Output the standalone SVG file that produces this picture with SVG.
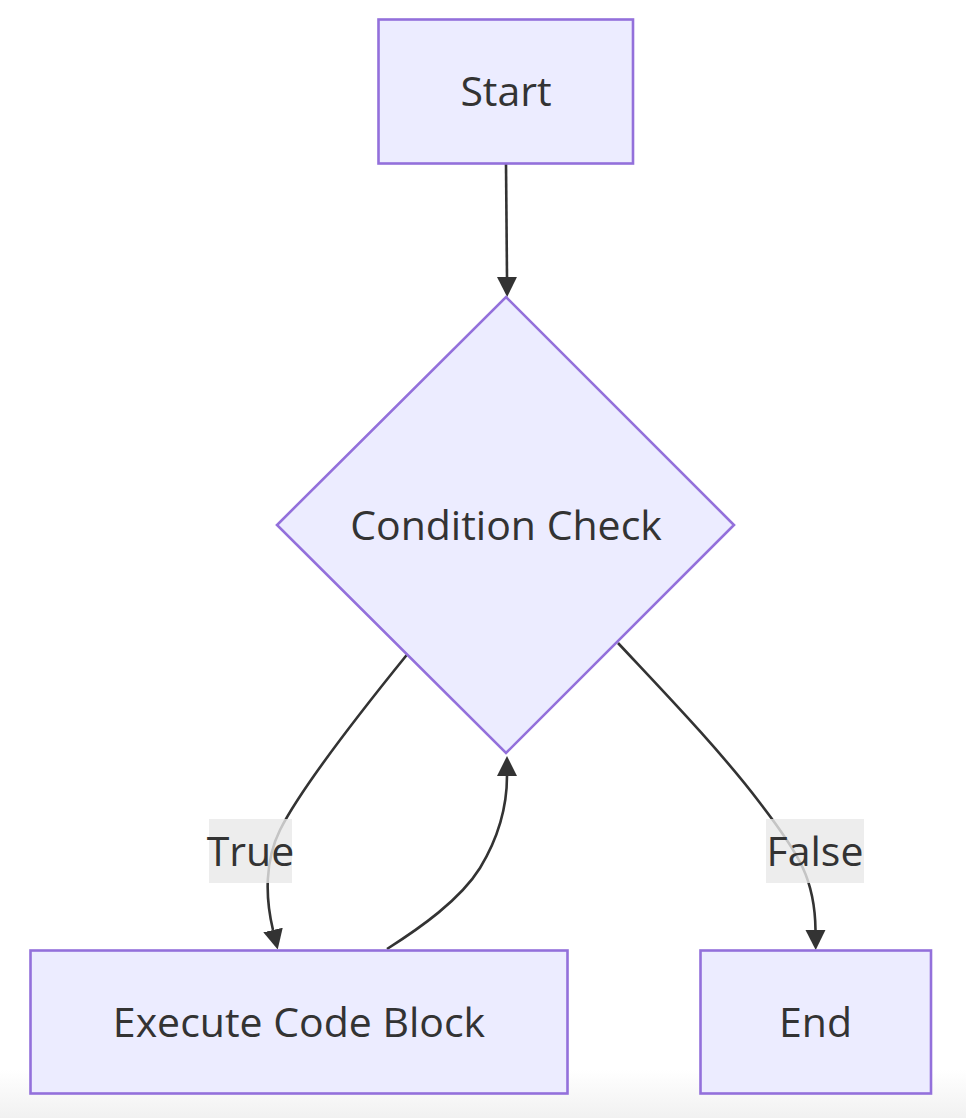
<svg xmlns="http://www.w3.org/2000/svg" width="966" height="1118" viewBox="0 0 966 1118">
  <style>
    .node { fill: #ECECFF; stroke: #9370DB; stroke-width: 2.6; }
    .lbl { font-family: "Open Sans", "Noto Sans", sans-serif; font-size: 41px; fill: #333333; text-anchor: middle; }
    .edge { fill: none; stroke: #333333; stroke-width: 2.6; }
    .elbg { fill: #E8E8E8; fill-opacity: 0.8; }
  </style>
  <defs>
    <linearGradient id="bottomFade" x1="0" y1="0" x2="0" y2="1">
      <stop offset="0" stop-color="#ffffff"/>
      <stop offset="1" stop-color="#f1f1f1"/>
    </linearGradient>
    <marker id="arrow" viewBox="0 0 10 10" refX="0" refY="5" markerUnits="userSpaceOnUse" markerWidth="20" markerHeight="22" orient="auto">
      <path d="M0,0 L10,5 L0,10 z" fill="#333333"/>
    </marker>
  </defs>
  <rect x="0" y="0" width="966" height="1118" fill="#ffffff"/>
  <rect x="0" y="1070" width="966" height="48" fill="url(#bottomFade)"/>

  <g id="edges">
    <path class="edge" d="M506,164 L507,277" marker-end="url(#arrow)"/>
    <path class="edge" d="M406.7,655 C350,725 300,790 280,830 C265,860 265,897 273,930" marker-end="url(#arrow)"/>
    <path class="edge" d="M387,949 C420,928 460,900 480,868 C500,835 507,805 507,776" marker-end="url(#arrow)"/>
    <path class="edge" d="M618,643 C660,688 720,750 760,803 C800,855 815,880 815.5,930" marker-end="url(#arrow)"/>
  </g>

  <g id="edge-labels">
    <g id="label-true">
      <rect class="elbg" x="209" y="819" width="83" height="64"/>
      <text class="lbl" x="250.5" y="866">True</text>
    </g>
    <g id="label-false">
      <rect class="elbg" x="766" y="819" width="98" height="64"/>
      <text class="lbl" x="815" y="866">False</text>
    </g>
  </g>

  <g id="node-start">
    <rect class="node" x="378.5" y="19.5" width="254.5" height="144"/>
    <text class="lbl" x="506" y="106">Start</text>
  </g>
  <g id="node-condition">
    <polygon class="node" points="506,297 734,525 506,753 277,525"/>
    <text class="lbl" x="506" y="540">Condition Check</text>
  </g>
  <g id="node-execute">
    <rect class="node" x="30.5" y="950.5" width="537" height="143"/>
    <text class="lbl" x="299" y="1037">Execute Code Block</text>
  </g>
  <g id="node-end">
    <rect class="node" x="700.5" y="950.5" width="230.5" height="143"/>
    <text class="lbl" x="815.5" y="1037">End</text>
  </g>
</svg>
